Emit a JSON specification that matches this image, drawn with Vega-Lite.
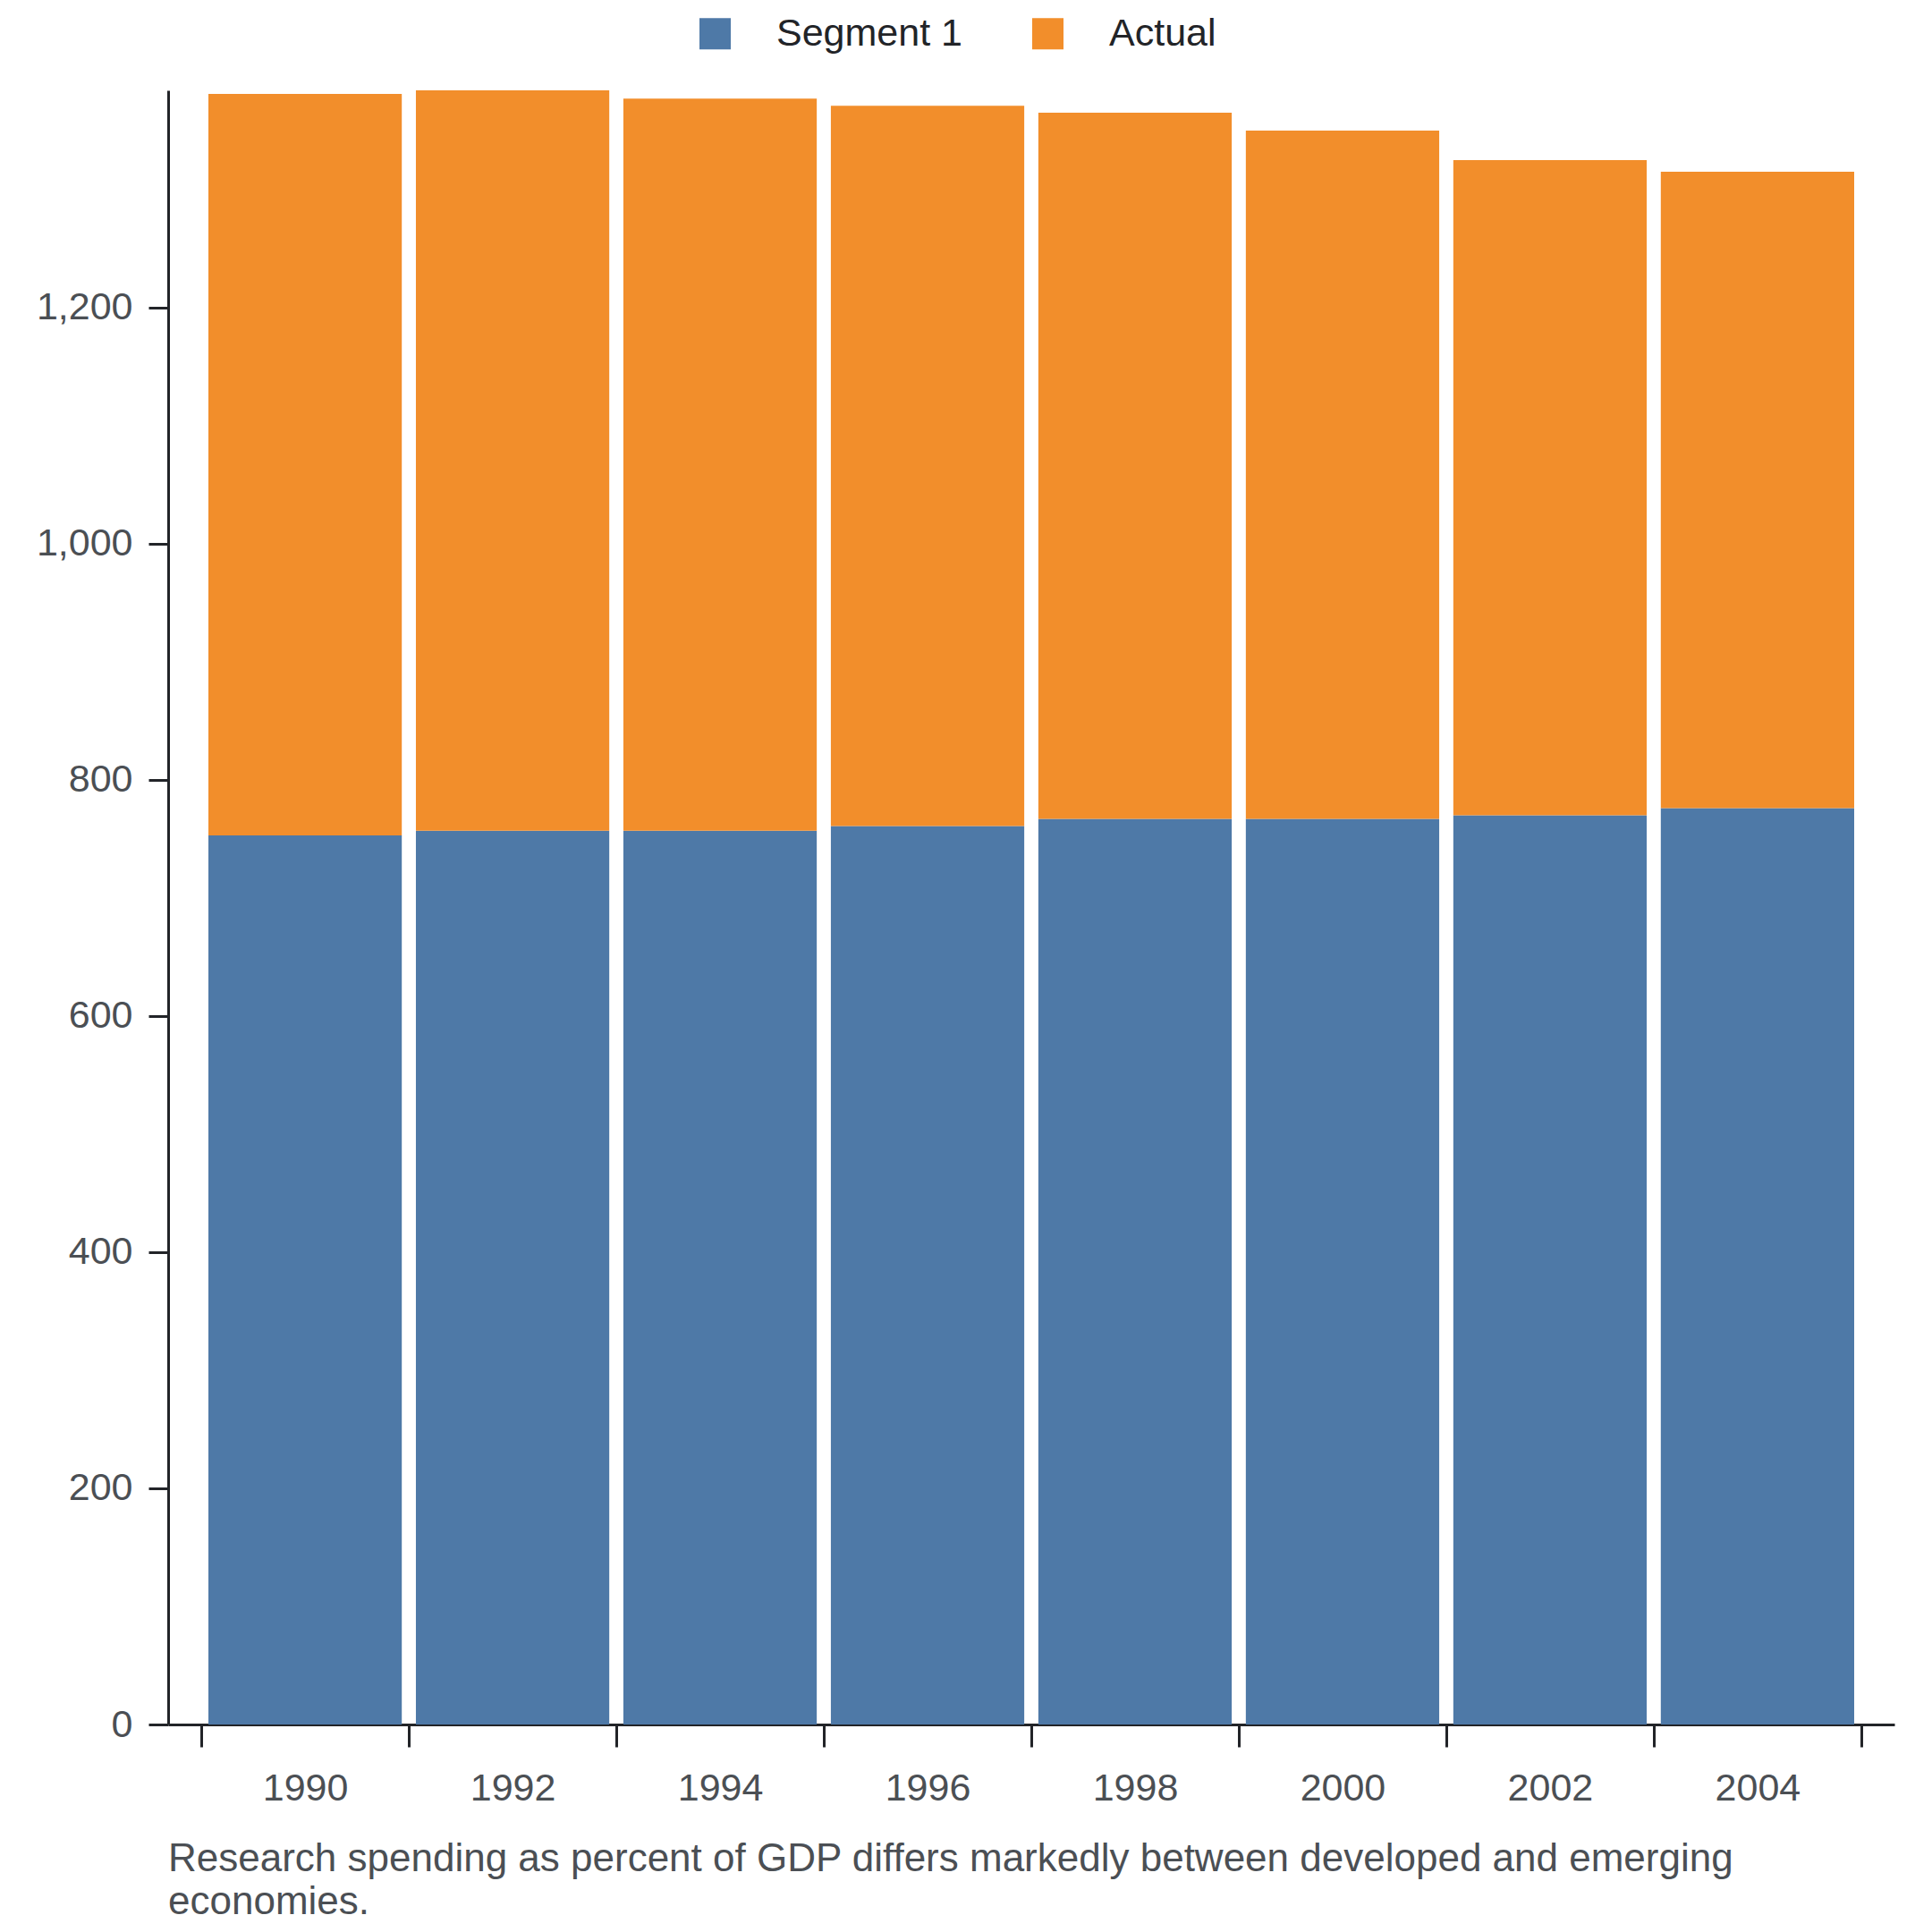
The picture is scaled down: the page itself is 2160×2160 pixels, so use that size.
{
  "$schema": "https://vega.github.io/schema/vega-lite/v6.json",
  "width": 1930,
  "height": 1827,
  "padding": {"left": 40, "top": 16, "right": 30, "bottom": 10},
  "background": "white",
  "title": {
    "text": [
      "Research spending as percent of GDP differs markedly between developed and emerging",
      "economies."
    ],
    "orient": "bottom",
    "anchor": "start",
    "frame": "group",
    "font": "Liberation Sans",
    "fontSize": 44,
    "fontWeight": "normal",
    "color": "#4b4f54",
    "lineHeight": 48,
    "offset": 36
  },
  "config": {
    "font": "Liberation Sans",
    "view": {"stroke": null},
    "axis": {
      "grid": false,
      "labelFont": "Liberation Sans",
      "labelFontSize": 43,
      "labelColor": "#4b4f54",
      "domainColor": "#222428",
      "domainWidth": 3,
      "tickColor": "#222428",
      "tickWidth": 3,
      "title": null
    },
    "legend": {
      "labelFont": "Liberation Sans",
      "labelFontSize": 43,
      "labelColor": "#222428",
      "labelLimit": 0,
      "padding": 0
    }
  },
  "data": {
    "values": [
      {"year": "1990", "segment": "Segment 1", "value": 753},
      {"year": "1990", "segment": "Actual", "value": 628},
      {"year": "1992", "segment": "Segment 1", "value": 757},
      {"year": "1992", "segment": "Actual", "value": 627},
      {"year": "1994", "segment": "Segment 1", "value": 757},
      {"year": "1994", "segment": "Actual", "value": 620},
      {"year": "1996", "segment": "Segment 1", "value": 761},
      {"year": "1996", "segment": "Actual", "value": 610},
      {"year": "1998", "segment": "Segment 1", "value": 767},
      {"year": "1998", "segment": "Actual", "value": 598},
      {"year": "2000", "segment": "Segment 1", "value": 767},
      {"year": "2000", "segment": "Actual", "value": 583},
      {"year": "2002", "segment": "Segment 1", "value": 770},
      {"year": "2002", "segment": "Actual", "value": 555},
      {"year": "2004", "segment": "Segment 1", "value": 776},
      {"year": "2004", "segment": "Actual", "value": 539}
    ]
  },
  "mark": {"type": "bar", "width": {"band": 0.932}},
  "encoding": {
    "x": {
      "field": "year",
      "type": "ordinal",
      "scale": {"paddingInner": 0, "paddingOuter": 0.16},
      "axis": {
        "labelAngle": 0,
        "tickBand": "extent",
        "tickSize": 25,
        "labelPadding": 25
      }
    },
    "y": {
      "field": "value",
      "type": "quantitative",
      "stack": "zero",
      "scale": {"nice": false},
      "axis": {
        "values": [0, 200, 400, 600, 800, 1000, 1200],
        "format": ",d",
        "tickSize": 22,
        "labelPadding": 18
      }
    },
    "color": {
      "field": "segment",
      "type": "nominal",
      "sort": ["Segment 1", "Actual"],
      "scale": {
        "domain": ["Segment 1", "Actual"],
        "range": ["#4e79a7", "#f28e2b"]
      },
      "legend": {
        "title": null,
        "orient": "none",
        "direction": "horizontal",
        "legendX": 590,
        "legendY": -85,
        "symbolType": "square",
        "symbolSize": 1225,
        "symbolStrokeWidth": 0,
        "labelOffset": 47,
        "columnPadding": 74
      }
    }
  }
}
